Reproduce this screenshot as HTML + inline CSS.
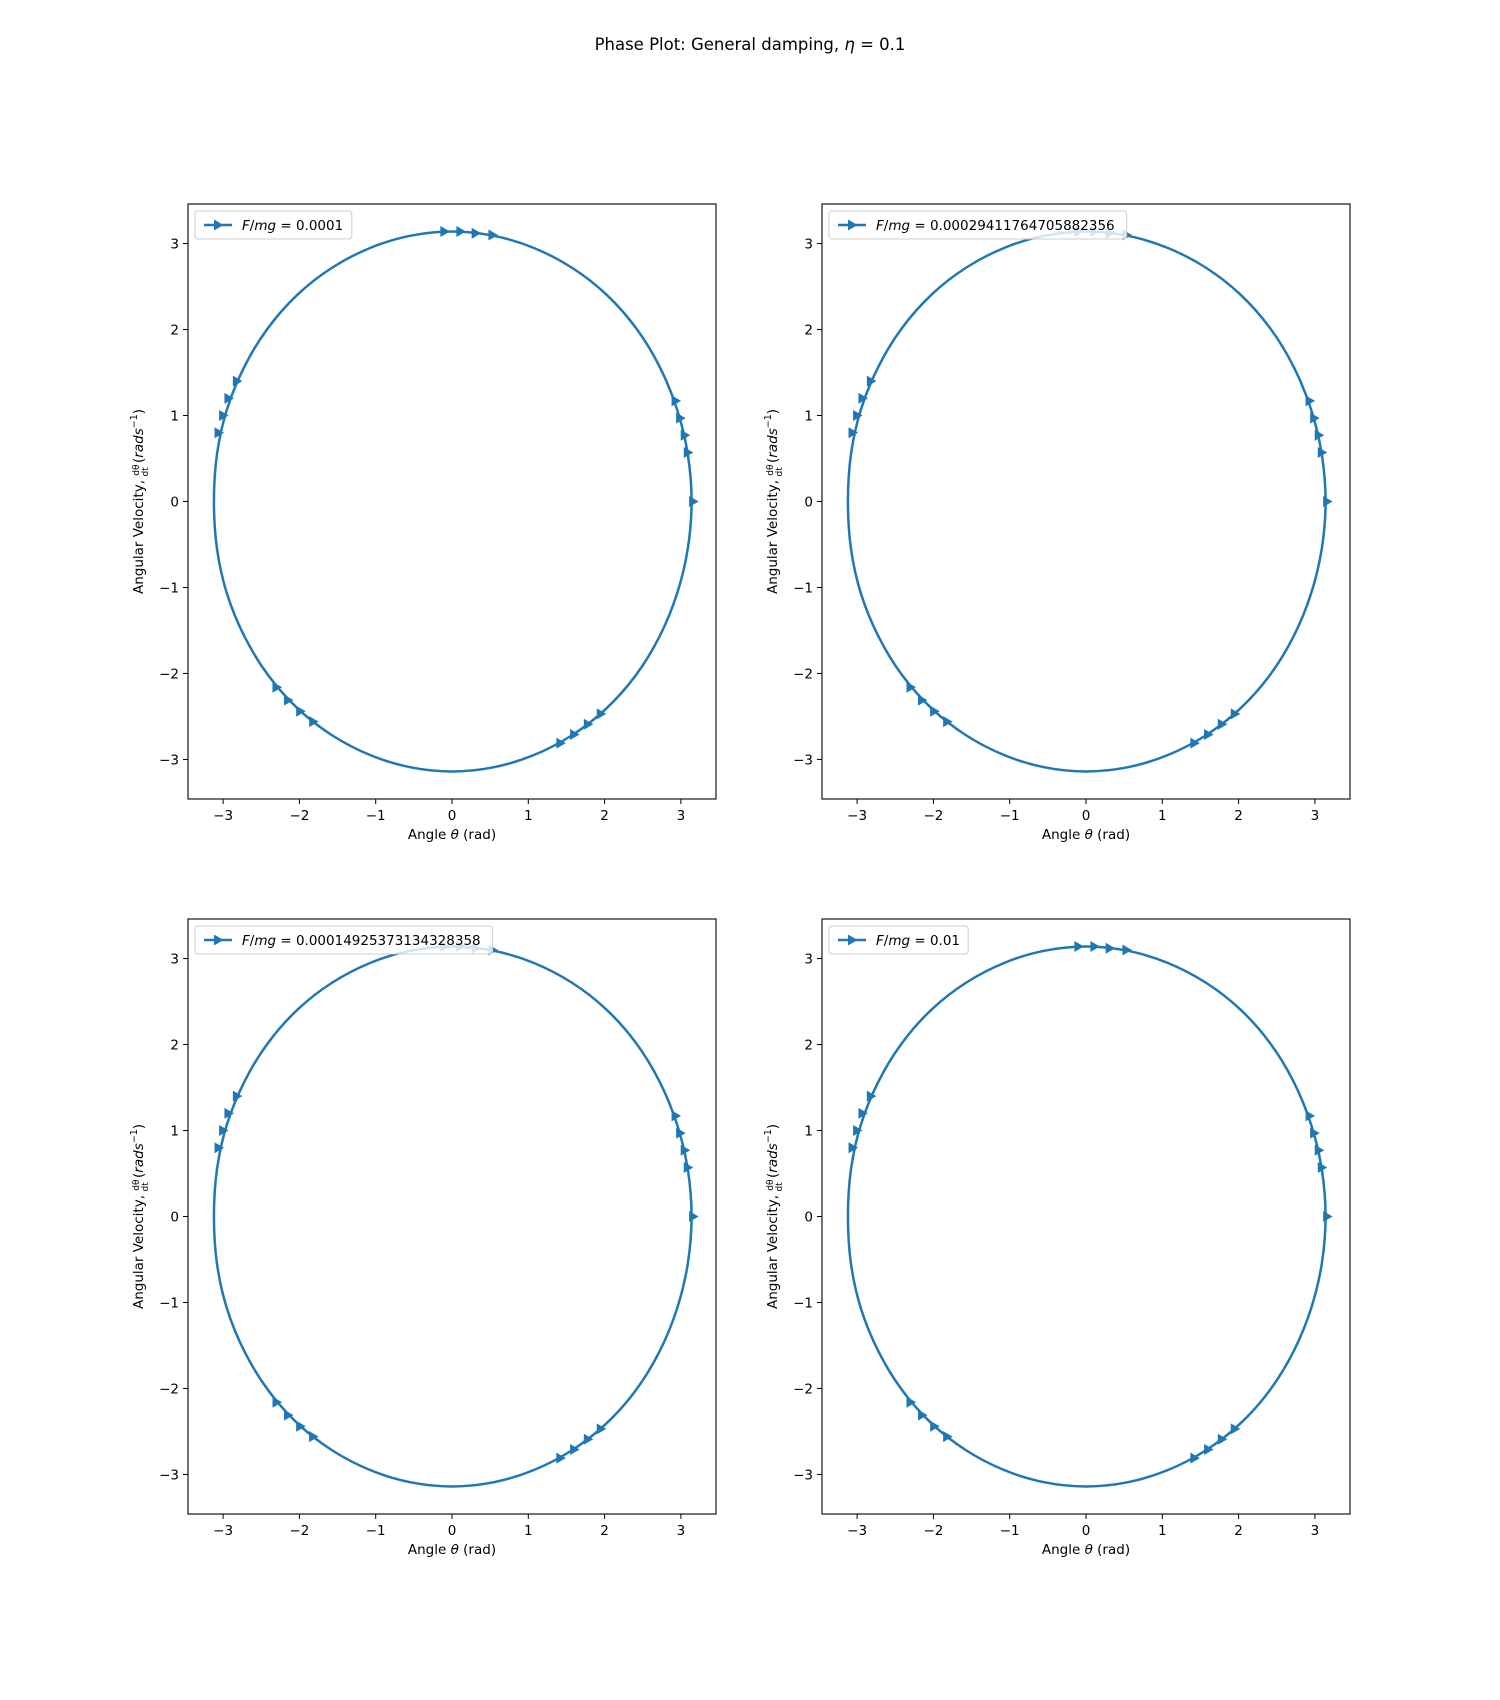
<!DOCTYPE html>
<html><head><meta charset="utf-8">
<style>
html,body{margin:0;padding:0;background:#fff;}
svg{display:block;font-family:"DejaVu Sans","Liberation Sans",sans-serif;}
</style></head>
<body>
<svg id="fig" width="1500" height="1700" viewBox="0 0 1500 1700" xmlns="http://www.w3.org/2000/svg">
<text x="750" y="50" text-anchor="middle" font-size="16.5" fill="#000">Phase Plot: General damping, <tspan font-style="italic">η</tspan> = 0.1</text>
</svg>
<script>
// ---- data ----
const curveTheta = [3.14,3.09,2.95,2.72,2.41,2.02,1.57,1.07,0.55,0,-0.55,-1.07,-1.57,-2.02,-2.41,-2.72,-2.95,-3.08,-3.12,-3.08,-2.95,-2.72,-2.41,-2.02,-1.57,-1.07,-0.55,0,0.55,1.07,1.57,2.02,2.41,2.72,2.95,3.09];
const curveOmega = [0,0.55,1.07,1.57,2.02,2.41,2.72,2.95,3.09,3.14,3.09,2.95,2.72,2.41,2.02,1.57,1.07,0.55,0,-0.55,-1.07,-1.57,-2.02,-2.41,-2.72,-2.95,-3.09,-3.14,-3.09,-2.95,-2.72,-2.41,-2.02,-1.57,-1.07,-0.55];
const markerTheta = [-0.1,0.11,0.31,0.53,-2.82,-2.93,-3.0,-3.06,2.93,2.99,3.05,3.09,3.16,-2.3,-2.15,-1.99,-1.82,1.42,1.6,1.78,1.95];
const markerOmega = [3.14,3.14,3.12,3.1,1.4,1.2,1.0,0.8,1.17,0.97,0.77,0.57,0,-2.16,-2.31,-2.44,-2.56,-2.81,-2.71,-2.59,-2.47];
const legendLabels = ["0.0001","0.00029411764705882356","0.00014925373134328358","0.01"];
const xTicks = [-3,-2,-1,0,1,2,3];
const yTicks = [-3,-2,-1,0,1,2,3];
const xLim = [-3.46,3.46];
const yLim = [-3.46,3.46];

const NS="http://www.w3.org/2000/svg";
const fig=document.getElementById('fig');
const C="#1f77b4";
function mk(tag,attrs,parent){const e=document.createElementNS(NS,tag);for(const k in attrs)e.setAttribute(k,attrs[k]);parent.appendChild(e);return e;}
function lab(v){return v<0?"\u2212"+(-v):""+v;}

const panels=[{l:188,t:204},{l:822,t:204},{l:188,t:919},{l:822,t:919}];
const W=528,H=595;
panels.forEach((p,i)=>{
  const g=mk('g',{},fig);
  
  
  const sx=v=>p.l+(v-xLim[0])/(xLim[1]-xLim[0])*W;
  const sy=v=>p.t+H-(v-yLim[0])/(yLim[1]-yLim[0])*H;
  const n=curveTheta.length;
  const pts=curveTheta.map((x,k)=>[sx(x),sy(curveOmega[k])]);
  let d="M"+pts[0][0].toFixed(2)+","+pts[0][1].toFixed(2);
  for(let k=0;k<n;k++){
    const p0=pts[(k-1+n)%n],p1=pts[k],p2=pts[(k+1)%n],p3=pts[(k+2)%n];
    const c1=[p1[0]+(p2[0]-p0[0])/6,p1[1]+(p2[1]-p0[1])/6];
    const c2=[p2[0]-(p3[0]-p1[0])/6,p2[1]-(p3[1]-p1[1])/6];
    d+=` C${c1[0].toFixed(2)},${c1[1].toFixed(2)} ${c2[0].toFixed(2)},${c2[1].toFixed(2)} ${p2[0].toFixed(2)},${p2[1].toFixed(2)}`;
  }
  const path=mk('path',{d:d,fill:'none',stroke:C,'stroke-width':2.5},g);
  
  
  markerTheta.forEach((x,k)=>{
    const cx=sx(x),cy=sy(markerOmega[k]);
    const m=mk('polygon',{points:`${cx+5.5},${cy} ${cx-4},${cy-5.5} ${cx-4},${cy+5.5}`,fill:C},g);
    
    
  });
  const fr=mk('rect',{x:p.l,y:p.t,width:W,height:H,fill:'none',stroke:'#000','stroke-width':1.1},g);
  
  
  xTicks.forEach(v=>{
    const x=sx(v);
    mk('line',{x1:x,y1:p.t+H,x2:x,y2:p.t+H+5,stroke:'#000','stroke-width':1},g);
    const t=mk('text',{x:x,y:p.t+H+21,'text-anchor':'middle','font-size':13.5},g);
    t.textContent=lab(v);
    
    
  });
  yTicks.forEach(v=>{
    const y=sy(v);
    mk('line',{x1:p.l-5,y1:y,x2:p.l,y2:y,stroke:'#000','stroke-width':1},g);
    const t=mk('text',{x:p.l-9,y:y+5,'text-anchor':'end','font-size':13.5},g);
    t.textContent=lab(v);
    
    
  });
  const xl=mk('text',{x:p.l+W/2,y:p.t+H+40,'text-anchor':'middle','font-size':13.5},g);
  xl.innerHTML='Angle <tspan font-style="italic">θ</tspan> (rad)';
  
  
  const yl=mk('text',{x:0,y:0,'text-anchor':'middle','font-size':13.5,transform:`translate(${p.l-45},${p.t+H/2}) rotate(-90)`},g);
  yl.innerHTML='Angular Velocity, <tspan font-size="9" dy="-4">dθ</tspan><tspan font-size="9" dx="-12" dy="9">dt</tspan><tspan dy="-5"> (</tspan><tspan font-style="italic">rads</tspan><tspan font-size="9.5" dy="-6">−1</tspan><tspan dy="6">)</tspan>';
  
  
  const lbl=legendLabels[i];
  const tw=104+lbl.length*8.8;
  const lg=mk('g',{},g);
  
  
  mk('rect',{x:p.l+7,y:p.t+7,width:tw,height:28,rx:3,fill:'#fff','fill-opacity':0.8,stroke:'#ccc','stroke-width':1},lg);
  mk('line',{x1:p.l+16,y1:p.t+21,x2:p.l+44,y2:p.t+21,stroke:C,'stroke-width':2.5},lg);
  mk('polygon',{points:`${p.l+35.5},${p.t+21} ${p.l+26},${p.t+15.5} ${p.l+26},${p.t+26.5}`,fill:C},lg);
  const lt=mk('text',{x:p.l+54,y:p.t+26,'font-size':13.5},lg);
  lt.innerHTML='<tspan font-style="italic">F</tspan>/<tspan font-style="italic">mg</tspan> = '+lbl;
  
  
});
</script>
</body></html>
